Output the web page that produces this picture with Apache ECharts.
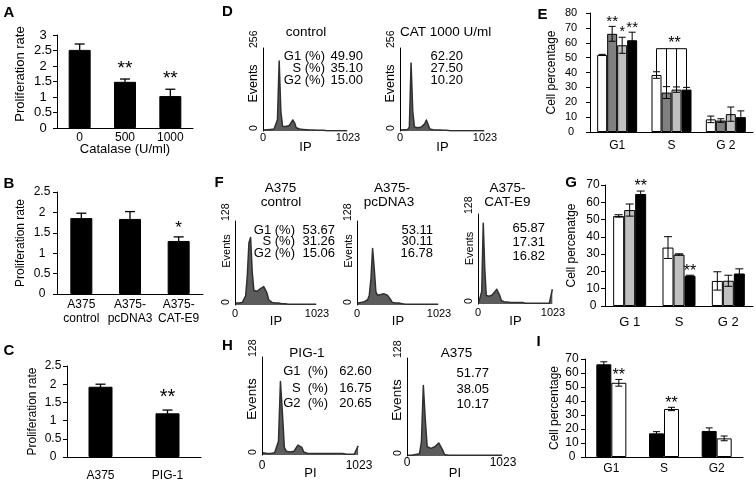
<!DOCTYPE html>
<html>
<head>
<meta charset="utf-8">
<script src="https://cdn.jsdelivr.net/npm/echarts@6/dist/echarts.min.js"></script>
<style>
  html, body { margin: 0; padding: 0; background: #fff; }
  #fig { width: 756px; height: 481px; }
</style>
</head>
<body>
<div id="fig"></div>
<script>
var FONT = '"Liberation Sans", Arial, Helvetica, sans-serif';

// A - proliferation vs catalase
var catA = ['0', '500', '1000'];
var rateA = [2.52, 1.49, 1.03];
var errA = [0.19, 0.09, 0.22];
var starA = ['', '**', '**'];

// B - stable clones
var catB = ['A375\ncontrol', 'A375-\npcDNA3', 'A375-\nCAT-E9'];
var rateB = [1.86, 1.84, 1.3];
var errB = [0.12, 0.18, 0.1];
var starB = ['', '', '*'];

// C - PIG-1
var catC = ['A375', 'PIG-1'];
var rateC = [1.93, 1.2];
var errC = [0.07, 0.09];
var starC = ['', '**'];

// E - cell cycle, 4 groups
var phaseE = ['G1', 'S', 'G 2'];
var eWhite = [51.8, 38.3, 8.5], eWhiteErr = [0.4, 2.2, 2.2];
var eDark = [66, 26.5, 7.7], eDarkErr = [5, 4, 1.2];
var eLight = [58.3, 28.5, 12], eLightErr = [5.4, 1.8, 4.8];
var eBlack = [61.7, 28.5, 10], eBlackErr = [5.4, 1.5, 4.2];
var eStarDark = ['**', '', ''];
var eStarLight = ['*', '', ''];
var eStarBlack = ['**', '', ''];
var eBracket = [[1, 56]];

// G - cell cycle, 3 groups
var phaseG = ['G 1', 'S', 'G 2'];
var gWhite = [52.1, 33.8, 14.5], gWhiteErr = [0.7, 6.3, 5.3];
var gLight = [55.5, 29.8, 14.6], gLightErr = [3.5, 0.4, 3.2];
var gBlack = [64.8, 17.5, 18.8], gBlackErr = [1.7, 0.3, 2.7];
var gStarBlack = ['**', '**', ''];

// I - cell cycle, PIG-1 vs A375
var phaseI = ['G1', 'S', 'G2'];
var iBlack = [66.2, 16.9, 18.6], iBlackErr = [1.8, 1.2, 2.2];
var iWhite = [53, 34.3, 13.3], iWhiteErr = [2.4, 1.2, 1.7];
var iStarWhite = ['**', '**', ''];

// flow histograms, 50 bins over 0-1023
var histBins = 50;
var dControl = [3,4,4,5,5,5,6,8,35,216, 60,15,13,14,15,17,22,34,26,10, 7,6,5,5,5,4,4,3,3,3, 2,2,2,2,2,2,1,1,1,1, 1,1,1,1,1,1,1,1,1,1];
var dCat = [3,3,4,4,5,12,210,60,12,10, 10,11,12,14,22,34,20,6,4,4, 3,3,3,3,2,2,2,2,2,1, 1,1,1,1,1,1,1,1,1,1, 1,1,1,1,1,1,1,1,1,1];
var fControl = [3,3,3,4,4,6,14,45,95,103, 50,22,20,21,23,25,27,28,27,18, 8,5,4,4,3,3,3,2,2,2, 2,2,1,1,1,1,1,1,1,1, 1,1,1,1,1,1,1,1,1,1];
var fPcdna = [3,3,4,4,5,6,8,15,40,86, 55,20,15,15,16,16,17,16,15,12, 8,4,4,3,3,3,2,2,2,1, 1,1,1,1,1,1,1,1,1,1, 1,1,1,1,1,1,1,1,1,1];
var fCat = [2,3,18,115,50,12,10,11,12,13, 15,18,21,20,12,5,3,3,3,3, 2,2,2,2,2,2,2,2,2,2, 2,1,1,1,1,1,1,1,1,1, 1,1,1,1,1,1,1,1,1,21];
var hPig = [3,3,2,2,2,2,3,4,18,96, 55,10,5,4,4,4,5,7,13,15, 10,4,3,2,2,2,2,2,2,2, 2,2,2,2,2,2,2,2,2,2, 2,2,1,1,1,1,1,1,1,12];
var hA375 = [1,1,1,2,2,2,3,18,92,48, 12,10,10,11,12,14,17,18,8,2, 1,1,1,1,1,1,1,1,1,1, 1,1,1,1,1,1,1,1,1,1, 1,1,1,1,1,1,1,1,1,1];

var rowsDF = ['G1 (%)', 'S (%)', 'G2 (%)'];
var rowsH = ['G1  (%)', 'S  (%)', 'G2  (%)'];
var pctDControl = ['49.90', '35.10', '15.00'];
var pctDCat = ['62.20', '27.50', '10.20'];
var pctFControl = ['53.67', '31.26', '15.06'];
var pctFPcdna = ['53.11', '30.11', '16.78'];
var pctFCat = ['65.87', '17.31', '16.82'];
var pctHPig = ['62.60', '16.75', '20.65'];
var pctHA375 = ['51.77', '38.05', '10.17'];

var chart = echarts.init(document.getElementById('fig'));

var grids = [
  {left: 57, top: 35, width: 136, height: 93},    // 0 A
  {left: 57, top: 192, width: 146, height: 102},  // 1 B
  {left: 67, top: 366, width: 134, height: 91},   // 2 C
  {left: 590, top: 13, width: 163, height: 119},  // 3 E
  {left: 605, top: 185, width: 148, height: 121}, // 4 G
  {left: 585, top: 359, width: 158, height: 98},  // 5 I
  {left: 263, top: 48, width: 85, height: 83},    // 6 D1
  {left: 400, top: 48, width: 85, height: 83},    // 7 D2
  {left: 235, top: 221, width: 82, height: 84},   // 8 F1
  {left: 357, top: 221, width: 82, height: 84},   // 9 F2
  {left: 478, top: 214, width: 75, height: 90},   // 10 F3
  {left: 262, top: 357, width: 97, height: 98},   // 11 H1
  {left: 407, top: 358, width: 96, height: 98}    // 12 H2
];
grids.forEach(function (g) { g.outerBoundsMode = 'none'; g.containLabel = false; });

var black = {color: '#000', width: 1};
var plain = function (v) { return String(v); };

function barX(gi, cats, fs, margin, name, nameGap) {
  return {
    type: 'category', gridIndex: gi, data: cats,
    axisLine: {lineStyle: black},
    axisTick: {length: 4, interval: 0, lineStyle: black},
    axisLabel: {interval: 0, fontSize: fs, margin: margin, color: '#000', fontFamily: FONT, lineHeight: 14},
    name: name || '', nameLocation: 'middle', nameGap: nameGap || 0, nameMoveOverlap: false,
    nameTextStyle: {fontSize: 13, color: '#000', fontFamily: FONT}
  };
}
function barY(gi, max, interval, fs, margin, name, nameFs, nameGap, pad) {
  return {
    type: 'value', gridIndex: gi, min: 0, max: max, interval: interval,
    axisLine: {show: true, lineStyle: black},
    axisTick: {show: true, length: 4, lineStyle: black},
    splitLine: {show: false},
    axisLabel: {fontSize: fs, margin: margin, align: 'center', color: '#000', fontFamily: FONT},
    name: name, nameLocation: 'middle', nameGap: nameGap, nameMoveOverlap: false,
    nameTextStyle: {fontSize: nameFs, color: '#000', fontFamily: FONT, padding: [0, 0, 0, pad || 0]}
  };
}
function histX(gi, name, fs, margin, nameGap) {
  return {
    type: 'value', gridIndex: gi, min: 0, max: 1023, interval: 1023,
    axisLine: {show: false}, axisTick: {show: false}, splitLine: {show: false},
    axisLabel: {fontSize: fs, margin: margin, color: '#000', fontFamily: FONT, formatter: plain},
    name: name, nameLocation: 'middle', nameGap: nameGap, nameMoveOverlap: false,
    nameTextStyle: {fontSize: 13, color: '#000', fontFamily: FONT}
  };
}
function histY(gi, max, nameFs, pad) {
  return {
    type: 'value', gridIndex: gi, min: 0, max: max, interval: max,
    axisLine: {show: true, lineStyle: black}, axisTick: {show: false}, splitLine: {show: false},
    axisLabel: {rotate: 90, align: 'left', margin: 3, fontSize: 10.5, color: '#000', fontFamily: FONT, formatter: plain},
    name: 'Events', nameLocation: 'middle', nameGap: 3, nameMoveOverlap: false,
    nameTextStyle: {fontSize: nameFs, color: '#000', fontFamily: FONT, padding: [0, 0, 0, pad]}
  };
}

var xAxes = [
  barX(0, catA, 12, 3, 'Catalase (U/ml)', 15),
  barX(1, catB, 12, 4),
  barX(2, catC, 12, 12),
  barX(3, phaseE, 12, 7),
  barX(4, phaseG, 13, 9),
  barX(5, phaseI, 12, 5),
  histX(6, 'IP', 11, 1, 10),
  histX(7, 'IP', 11, 1, 10),
  histX(8, 'IP', 11, 3, 10),
  histX(9, 'IP', 11, 3, 10),
  histX(10, 'IP', 11, 3, 11),
  histX(11, 'PI', 12, 5, 12),
  histX(12, 'PI', 12, 1, 11)
];
var yAxes = [
  barY(0, 3, 0.5, 13, 14, 'Proliferation rate', 13, 30, 15),
  barY(1, 2.5, 0.5, 12, 15, 'Proliferation rate', 12, 30, 0),
  barY(2, 2.5, 0.5, 12, 14, 'Proliferation rate', 12, 28, 0),
  barY(3, 80, 10, 11, 19, 'Cell percentage', 12, 32, 0),
  barY(4, 70, 10, 12, 12, 'Cell percenatge', 12, 27, 0),
  barY(5, 70, 10, 12, 13, 'Cell percentage', 12, 24, 0),
  histY(6, 256, 12.5, 12),
  histY(7, 256, 12.5, 12),
  histY(8, 128, 11, 24),
  histY(9, 128, 11, 24),
  histY(10, 128, 11, 21),
  histY(11, 128, 13.5, 14),
  histY(12, 128, 13.5, 14)
];

function bars(ai, vals, color, w) {
  return {
    type: 'bar', xAxisIndex: ai, yAxisIndex: ai, data: vals, barWidth: w, barGap: 0,
    itemStyle: {color: color, borderColor: '#000', borderWidth: 1}, silent: true
  };
}

// error bars + significance stars, placed on the bar of series idx of n
function errs(ai, vals, err, n, idx, w, cap, lw, stars, starFs, starGap) {
  return {
    type: 'custom', xAxisIndex: ai, yAxisIndex: ai, z: 5, silent: true,
    data: vals.map(function (v, i) { return [i, v, err[i]]; }),
    renderItem: function (params, api) {
      var c = api.value(0), v = api.value(1), e = api.value(2);
      var mid = api.coord([c, v]);
      var x = mid[0] + (idx - (n - 1) / 2) * w;
      var yt = api.coord([c, v + e])[1];
      var yb = api.coord([c, v - e])[1];
      var st = {stroke: '#000', lineWidth: lw};
      var kids = [
        {type: 'line', shape: {x1: x, y1: yt, x2: x, y2: yb}, style: st},
        {type: 'line', shape: {x1: x - cap, y1: yt, x2: x + cap, y2: yt}, style: st},
        {type: 'line', shape: {x1: x - cap, y1: yb, x2: x + cap, y2: yb}, style: st}
      ];
      var s = stars && stars[params.dataIndex];
      if (s) {
        kids.push({type: 'text', style: {text: s, x: x, y: yt - starGap, textAlign: 'center',
          textVerticalAlign: 'bottom', font: starFs + 'px ' + FONT, fill: '#000'}});
      }
      return {type: 'group', children: kids};
    }
  };
}

function hist(ai, counts) {
  return {
    type: 'line', xAxisIndex: ai, yAxisIndex: ai, symbol: 'none', silent: true,
    data: counts.map(function (c, k) { return [(k + 0.5) * 1024 / histBins, c]; }),
    lineStyle: {color: '#303030', width: 1.5, join: 'round'},
    areaStyle: {color: '#5c5c5c', opacity: 1}
  };
}

var E_W = 10, G_W = 11, I_W = 15;

var series = [
  bars(0, rateA, '#000', 22), errs(0, rateA, errA, 1, 0, 22, 5, 1.3, starA, 19, 1),
  bars(1, rateB, '#000', 22), errs(1, rateB, errB, 1, 0, 22, 5, 1.3, starB, 17, 0),
  bars(2, rateC, '#000', 24), errs(2, rateC, errC, 1, 0, 24, 5, 1.3, starC, 20, 3),

  bars(3, eWhite, '#fff', E_W), bars(3, eDark, '#808080', E_W),
  bars(3, eLight, '#c0c0c0', E_W), bars(3, eBlack, '#000', E_W),
  errs(3, eWhite, eWhiteErr, 4, 0, E_W, 3.5, 1, null, 15, 0),
  errs(3, eDark, eDarkErr, 4, 1, E_W, 3.5, 1, eStarDark, 15, -3),
  errs(3, eLight, eLightErr, 4, 2, E_W, 3.5, 1, eStarLight, 14, -2),
  errs(3, eBlack, eBlackErr, 4, 3, E_W, 3.5, 1, eStarBlack, 15, -3),
  {
    type: 'custom', xAxisIndex: 3, yAxisIndex: 3, z: 6, silent: true, data: eBracket,
    renderItem: function (params, api) {
      var c = api.value(0), lvl = api.value(1);
      var mid = api.coord([c, lvl]);
      var groups = [[eWhite, eWhiteErr], [eDark, eDarkErr], [eLight, eLightErr], [eBlack, eBlackErr]];
      var st = {stroke: '#000', lineWidth: 1};
      var kids = [], xs = [];
      groups.forEach(function (g, i) {
        var x = mid[0] + (i - 1.5) * E_W;
        var yTop = api.coord([c, g[0][c] + g[1][c]])[1];
        xs.push(x);
        kids.push({type: 'line', shape: {x1: x, y1: mid[1], x2: x, y2: yTop}, style: st});
      });
      kids.push({type: 'line', shape: {x1: xs[0], y1: mid[1], x2: xs[3], y2: mid[1]}, style: st});
      kids.push({type: 'text', style: {text: '**', x: (xs[0] + xs[3]) / 2 + 3, y: mid[1] + 3,
        textAlign: 'center', textVerticalAlign: 'bottom', font: '16px ' + FONT, fill: '#000'}});
      return {type: 'group', children: kids};
    }
  },

  bars(4, gWhite, '#fff', G_W), bars(4, gLight, '#c0c0c0', G_W), bars(4, gBlack, '#000', G_W),
  errs(4, gWhite, gWhiteErr, 3, 0, G_W, 4, 1, null, 16, 0),
  errs(4, gLight, gLightErr, 3, 1, G_W, 4, 1, null, 16, 0),
  errs(4, gBlack, gBlackErr, 3, 2, G_W, 4, 1, gStarBlack, 16, -4),

  bars(5, iBlack, '#000', I_W), bars(5, iWhite, '#fff', I_W),
  errs(5, iBlack, iBlackErr, 2, 0, I_W, 3.5, 1, null, 16, 0),
  errs(5, iWhite, iWhiteErr, 2, 1, I_W, 3.5, 1, iStarWhite, 16, -4),

  hist(6, dControl), hist(7, dCat),
  hist(8, fControl), hist(9, fPcdna), hist(10, fCat),
  hist(11, hPig), hist(12, hA375)
];

function txt(x, y, s, size, align, weight) {
  return {type: 'text', x: x, y: y, silent: true,
    style: {text: s, font: (weight || 'normal') + ' ' + size + 'px ' + FONT, fill: '#000',
      textAlign: align || 'center', textVerticalAlign: 'middle'}};
}
function rows(labels, xr, ys, size) {
  return labels.map(function (s, i) { return txt(xr, ys[i], s, size, 'right'); });
}

var texts = [
  txt(9, 13, 'A', 15, 'center', 'bold'),
  txt(9, 184, 'B', 15, 'center', 'bold'),
  txt(9, 351, 'C', 15, 'center', 'bold'),
  txt(227.5, 12, 'D', 15, 'center', 'bold'),
  txt(542.5, 15, 'E', 15, 'center', 'bold'),
  txt(219, 182.5, 'F', 15, 'center', 'bold'),
  txt(571, 183, 'G', 15, 'center', 'bold'),
  txt(227.5, 346, 'H', 15, 'center', 'bold'),
  txt(538.5, 342, 'I', 15, 'center', 'bold'),

  txt(306, 32, 'control', 13.5),
  txt(400, 32, 'CAT 1000 U/ml', 13.5, 'left'),
  txt(280.5, 188, 'A375', 13.5), txt(281, 202, 'control', 13.5),
  txt(392, 188, 'A375-', 13.5), txt(389, 202, 'pcDNA3', 13.5),
  txt(507.5, 188, 'A375-', 13.5), txt(507.5, 202.5, 'CAT-E9', 13.5),
  txt(307, 353.5, 'PIG-1', 13.5),
  txt(456.5, 353, 'A375', 13.5)
];
texts = texts
  .concat(rows(rowsDF, 325, [56.7, 68.3, 80], 13))
  .concat(rows(pctDControl, 363, [56.7, 68.3, 80], 13))
  .concat(rows(pctDCat, 463, [56.7, 68.3, 80], 13))
  .concat(rows(rowsDF, 295, [230, 241.7, 253.3], 13))
  .concat(rows(pctFControl, 335, [230, 241.7, 253.3], 13))
  .concat(rows(pctFPcdna, 433, [230, 241.7, 253.3], 13))
  .concat(rows(pctFCat, 545, [228.5, 242.5, 256.5], 13))
  .concat(rows(rowsH, 328, [371.7, 388.3, 403.5], 13))
  .concat(rows(pctHPig, 371.7, [371.7, 388.3, 403.5], 13))
  .concat(rows(pctHA375, 489, [373, 389.5, 404.5], 13));

chart.setOption({
  animation: false,
  textStyle: {fontFamily: FONT, color: '#000'},
  grid: grids,
  xAxis: xAxes,
  yAxis: yAxes,
  series: series,
  graphic: {elements: texts}
});
</script>
</body>
</html>
